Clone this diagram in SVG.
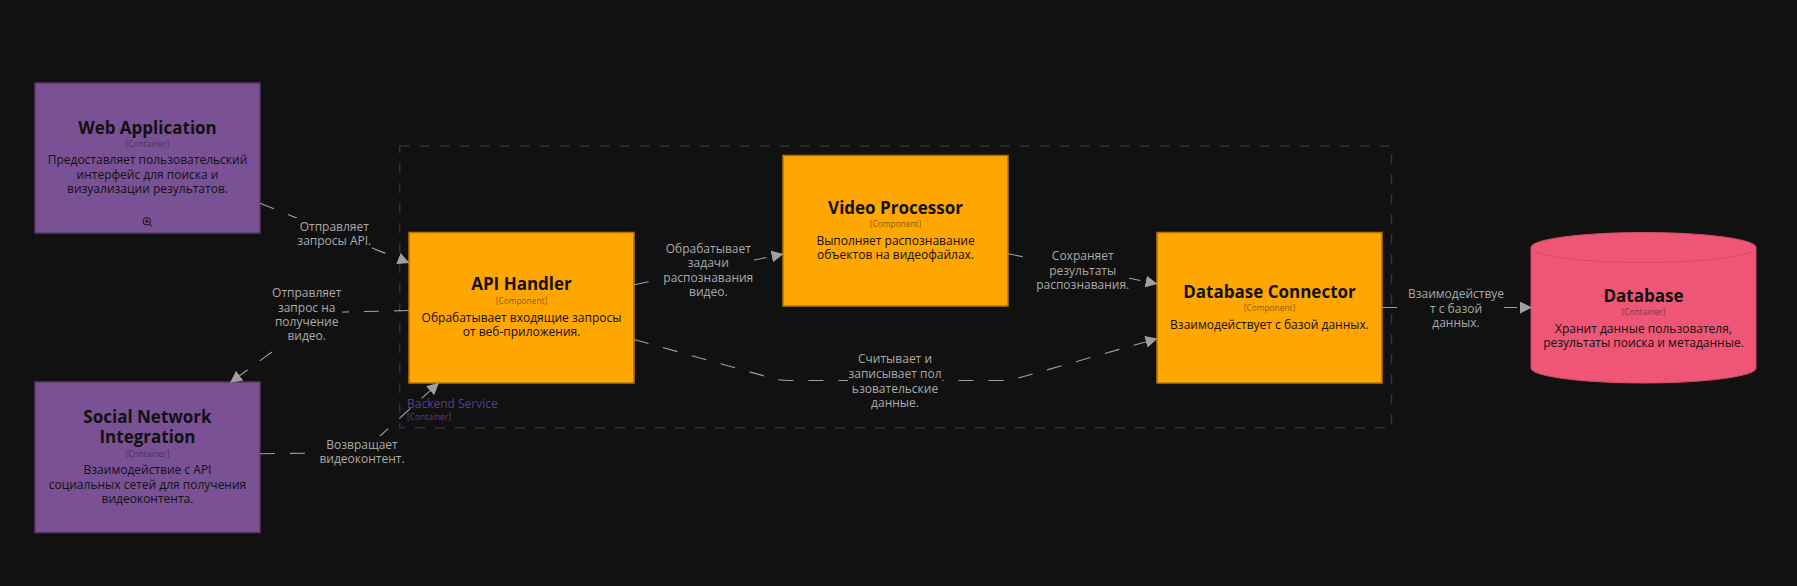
<svg xmlns="http://www.w3.org/2000/svg" width="1797" height="586" viewBox="0 0 1797 586">
<defs>
<style>
text{font-family:"Open Sans","Noto Sans","Liberation Sans",sans-serif;text-anchor:middle}
.box{stroke-width:1.5}
.purple{fill:#7a5195;stroke:#553867}
.orange{fill:#ffa600;stroke:#b27400}
.pink{fill:#ef5675;stroke:#d04d68;stroke-width:1}
.t{font-size:17px;font-weight:700;fill:#111}
.k{font-size:8.4px;fill:#111;fill-opacity:.55}
.d{font-size:12px;fill:#111}
.l{font-size:12px;fill:#aaa}
.c{fill:none;stroke:#a0a0a0;stroke-width:1.1;stroke-dasharray:15 15;marker-end:url(#arrow)}
.bg{fill:#111}
.b{font-size:12px;fill:#5a3e8c;text-anchor:start}
.bk{font-size:8.4px;fill:#5a3e8c;text-anchor:start}
</style>
<marker id="arrow" viewBox="0 0 12 12" refX="12" refY="6" markerUnits="userSpaceOnUse" markerWidth="12" markerHeight="12" orient="auto"><path d="M0 0L12 6L0 12Z" fill="#a0a0a0"/></marker>
</defs>
<rect width="1797" height="586" fill="#111"/>
<g id="boundary">
<rect x="399.7" y="146" width="991.8" height="281.7" fill="none" stroke="#372b45" stroke-width="1.5" stroke-dasharray="10 10"/>
<text class="b" x="407" y="408">Backend Service</text>
<text class="bk" x="407" y="420">[Container]</text>
</g>
<g id="web-application">
<rect class="box purple" x="35" y="83" width="225" height="150"/>
<text class="t" x="147.5" y="134">Web Application</text>
<text class="k" x="147.5" y="146.7">[Container]</text>
<text class="d" x="147.5" y="164.3">Предоставляет пользовательский</text>
<text class="d" x="147.5" y="178.7">интерфейс для поиска и</text>
<text class="d" x="147.5" y="193.3">визуализации результатов.</text>
<circle cx="146.8" cy="221.3" r="3.7" fill="none" stroke="#111" stroke-width="1"/>
<path d="M149.5,224L152,226.3M145,221.3h3.6M146.8,219.5v3.6" fill="none" stroke="#111" stroke-width="1"/>
</g>
<g id="social-network-integration">
<rect class="box purple" x="35" y="382" width="225" height="150.5"/>
<text class="t" x="147.5" y="422.7">Social Network</text>
<text class="t" x="147.5" y="442.7">Integration</text>
<text class="k" x="147.5" y="456.7">[Container]</text>
<text class="d" x="147.5" y="474.3">Взаимодействие с API</text>
<text class="d" x="147.5" y="489">социальных сетей для получения</text>
<text class="d" x="147.5" y="503">видеоконтента.</text>
</g>
<g id="api-handler">
<rect class="box orange" x="409" y="232.5" width="225" height="150.5"/>
<text class="t" x="521.5" y="290">API Handler</text>
<text class="k" x="521.5" y="304">[Component]</text>
<text class="d" x="521.5" y="321.7">Обрабатывает входящие запросы</text>
<text class="d" x="521.5" y="336">от веб-приложения.</text>
</g>
<g id="video-processor">
<rect class="box orange" x="783" y="155.5" width="225" height="150.5"/>
<text class="t" x="895.5" y="214">Video Processor</text>
<text class="k" x="895.5" y="227">[Component]</text>
<text class="d" x="895.5" y="245">Выполняет распознавание</text>
<text class="d" x="895.5" y="259">объектов на видеофайлах.</text>
</g>
<g id="database-connector">
<rect class="box orange" x="1157" y="232.5" width="225" height="150.5"/>
<text class="t" x="1269.5" y="298">Database Connector</text>
<text class="k" x="1269.5" y="311">[Component]</text>
<text class="d" x="1269.5" y="329">Взаимодействует с базой данных.</text>
</g>
<g id="database">
<path class="pink" d="M1531,247.5A112.5,15 0 0 1 1756,247.5V368A112.5,15 0 0 1 1531,368Z"/>
<path d="M1531,247.5A112.5,15 0 0 0 1756,247.5" fill="none" stroke="#d04d68" stroke-width="1"/>
<text class="t" x="1643.5" y="301.7">Database</text>
<text class="k" x="1643.5" y="315">[Container]</text>
<text class="d" x="1643.5" y="332.7">Хранит данные пользователя,</text>
<text class="d" x="1643.5" y="346.7">результаты поиска и метаданные.</text>
</g>
<g id="connectors">
<path class="c" d="M260,203.3L409.5,263"/>
<path class="c" d="M409,310.5L345,312L325,313L230,382.7"/>
<path class="c" d="M260,453.7L330,453Q360,453 380,436L439,382.7"/>
<path class="c" d="M634,284.7L783.5,254"/>
<path class="c" d="M1008,253.7L1157.5,284"/>
<path class="c" d="M634,339.5L775,379Q780,380.5 790,380.5L1000,380.5Q1010,380.5 1016,378.7L1157.5,338.5"/>
<path class="c" d="M1382,307.5L1532,307.5"/>
<g id="edge-labels">
<rect class="bg" x="296" y="218" width="76" height="32"/>
<text class="l" x="334.3" y="230.7">Отправляет</text><text class="l" x="334.3" y="245">запросы API.</text>
<rect class="bg" x="270" y="284" width="72" height="60"/>
<text class="l" x="306.7" y="296.7">Отправляет</text><text class="l" x="306.7" y="311.5">запрос на</text><text class="l" x="306.7" y="326">получение</text><text class="l" x="306.7" y="340">видео.</text>
<rect class="bg" x="319" y="436" width="86" height="32"/>
<text class="l" x="362" y="448.7">Возвращает</text><text class="l" x="362" y="462.7">видеоконтент.</text>
<rect class="bg" x="663" y="240" width="91" height="60"/>
<text class="l" x="708.3" y="252.7">Обрабатывает</text><text class="l" x="708.3" y="267">задачи</text><text class="l" x="708.3" y="281.5">распознавания</text><text class="l" x="708.3" y="295.7">видео.</text>
<rect class="bg" x="1036" y="248" width="93" height="46"/>
<text class="l" x="1082.7" y="260">Сохраняет</text><text class="l" x="1082.7" y="274.5">результаты</text><text class="l" x="1082.7" y="288.7">распознавания.</text>
<rect class="bg" x="848" y="351" width="94" height="61"/>
<text class="l" x="895" y="363.3">Считывает и</text><text class="l" x="895" y="378">записывает пол</text><text class="l" x="895" y="392.5">ьзовательские</text><text class="l" x="895" y="407">данные.</text>
<rect class="bg" x="1408" y="286" width="96" height="46"/>
<text class="l" x="1456" y="298">Взаимодействуе</text><text class="l" x="1456" y="312.7">т с базой</text><text class="l" x="1456" y="327">данных.</text>
</g>
</g>
</svg>
